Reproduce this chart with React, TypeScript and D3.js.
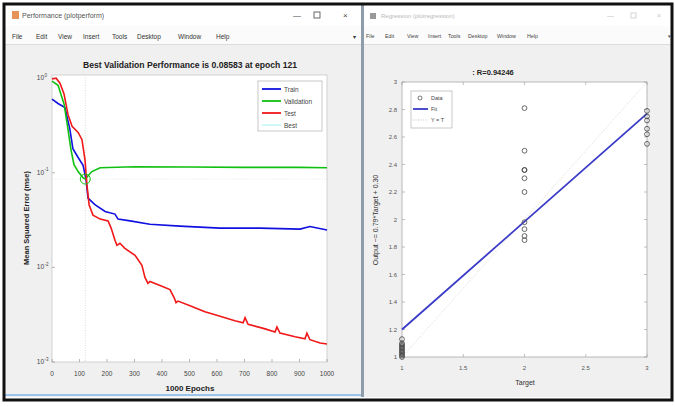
import React from "react";
import * as d3 from "d3";

// ---- performance plot data ----
const trainEpochs = [0, 22, 47, 65, 76, 95, 113, 124, 131, 156, 193, 229, 240, 284, 356, 465, 611, 756, 902, 938, 1000];
const trainMse = [0.6, 0.54, 0.49, 0.29, 0.18, 0.145, 0.12, 0.084, 0.054, 0.046, 0.039, 0.0366, 0.0324, 0.031, 0.0286, 0.0273, 0.026, 0.026, 0.0254, 0.027, 0.0248];

const valEpochs = [0, 22, 44, 58, 69, 80, 95, 113, 121, 145, 175, 300, 500, 700, 900, 1000];
const valMse = [0.93, 0.84, 0.53, 0.29, 0.176, 0.122, 0.103, 0.0885, 0.0858, 0.103, 0.113, 0.116, 0.115, 0.114, 0.114, 0.113];

const testEpochs = [0, 15, 29, 44, 58, 73, 95, 109, 120, 127, 135, 149, 175, 204, 215, 229, 236, 247, 265, 302, 327, 338, 349, 356, 393, 429, 444, 451, 458, 502, 556, 593, 665, 695, 702, 713, 775, 811, 818, 829, 884, 920, 927, 938, 975, 1000];
const testMse = [0.98, 1.0, 0.885, 0.675, 0.414, 0.31, 0.267, 0.224, 0.137, 0.0745, 0.0457, 0.0357, 0.0324, 0.031, 0.026, 0.0194, 0.0171, 0.018, 0.0159, 0.0134, 0.0105, 0.00783, 0.00676, 0.0071, 0.00645, 0.00583, 0.0048, 0.00424, 0.0044, 0.00394, 0.0034, 0.00316, 0.00273, 0.0026, 0.00294, 0.0025, 0.00224, 0.00208, 0.00234, 0.00202, 0.00185, 0.00176, 0.00202, 0.00172, 0.00159, 0.00155];

const bestEpoch = 121;
const bestPerf = 0.08583;
const perfXTicks = [0, 100, 200, 300, 400, 500, 600, 700, 800, 900, 1000];
const perfYExp = [0, -1, -2, -3];
const perfLegend = ["Train", "Validation", "Test", "Best"];
const perfColors = ["#1010e0", "#10c010", "#f01818", "#a0f0f0"];

// ---- regression plot data ----
const regTargets = [1, 1, 1, 1, 1, 1, 1, 1, 1, 1, 1, 1, 2, 2, 2, 2, 2, 2, 2, 2, 2, 2, 3, 3, 3, 3, 3, 3];
const regOutputs = [1.0, 1.01, 1.02, 1.03, 1.04, 1.05, 1.06, 1.07, 1.08, 1.09, 1.1, 1.13, 2.81, 2.5, 2.36, 2.36, 2.3, 2.2, 1.98, 1.93, 1.88, 1.85, 2.79, 2.75, 2.72, 2.66, 2.62, 2.55];
const fitTargets = [1, 3];
const fitOutputs = [1.2, 2.77];
const regXTicks = [1, 1.5, 2, 2.5, 3];
const regYTicks = [1, 1.2, 1.4, 1.6, 1.8, 2, 2.2, 2.4, 2.6, 2.8, 3];

const menuLeft = ["File", "Edit", "View", "Insert", "Tools", "Desktop", "Window", "Help"];
const menuLeftX = [12, 36, 58, 83, 112, 137, 178, 216];
const menuRightX = [366, 385, 407, 428, 448, 468, 497, 527];

const FONT = "'Liberation Sans', Arial, sans-serif";

function zip(xs: number[], ys: number[]): [number, number][] {
  return xs.map((x, i) => [x, ys[i]]);
}

export default function App() {
  // performance axes
  const px = d3.scaleLinear().domain([0, 1000]).range([52, 327]);
  const py = d3.scaleLog().domain([1e-3, 1.08]).range([362, 75]);
  const perfLine = d3.line<[number, number]>().x(d => px(d[0])).y(d => py(d[1]));

  // regression axes
  const rx = d3.scaleLinear().domain([1, 3]).range([402, 647]);
  const ry = d3.scaleLinear().domain([1, 3]).range([357, 82]);
  const regLine = d3.line<[number, number]>().x(d => rx(d[0])).y(d => ry(d[1]));

  return (
    <svg width={675} height={407} style={{ position: "absolute", left: 0, top: 0 }} fontFamily={FONT}>
      <rect x={0} y={0} width={675} height={407} fill="#ffffff" />

      {/* left window */}
      <rect x={5} y={5} width={358} height={392} fill="#f0f0f0" />
      <rect x={5} y={5} width={358} height={21} fill="#ffffff" />
      <rect x={5} y={26} width={358} height={18} fill="#fbfbfb" />
      <line x1={5} x2={363} y1={44.5} y2={44.5} stroke="#dcdcdc" />
      <rect x={12} y={11} width={7} height={8} fill="#e07a30" opacity={0.8} />
      <text x={22} y={18} fontSize={7} fill="#555">Performance (plotperform)</text>
      <text x={293} y={18} fontSize={8} fill="#444">—</text>
      <rect x={314} y={12} width={6} height={6} fill="none" stroke="#444" strokeWidth={0.8} />
      <text x={343} y={18} fontSize={8} fill="#444">×</text>
      {menuLeft.map((m, i) => (
        <text key={m} x={menuLeftX[i]} y={39} fontSize={6.5} fill="#333">{m}</text>
      ))}
      <text x={353} y={39} fontSize={6} fill="#333">▾</text>
      <line x1={5} x2={363} y1={395} y2={395} stroke="#9cc3ea" strokeWidth={2} />

      {/* performance axes */}
      <rect x={52} y={75} width={275} height={287} fill="#fff" stroke="#c8c8c8" strokeWidth={0.8} />
      <text x={190} y={68} fontSize={8.6} fontWeight="bold" textAnchor="middle" fill="#222">
        Best Validation Performance is 0.08583 at epoch 121
      </text>
      {perfXTicks.map(t => (
        <g key={t}>
          <line x1={px(t)} x2={px(t)} y1={362} y2={359} stroke="#888" strokeWidth={0.6} />
          <text x={px(t)} y={376} fontSize={6.5} textAnchor="middle" fill="#444">{t}</text>
        </g>
      ))}
      {perfYExp.map(e => (
        <g key={e}>
          <line x1={52} x2={55} y1={py(10 ** e)} y2={py(10 ** e)} stroke="#888" strokeWidth={0.6} />
          <text x={44} y={py(10 ** e) + 2} fontSize={6.5} textAnchor="end" fill="#444">10</text>
          <text x={44.5} y={py(10 ** e) - 1.5} fontSize={4.5} fill="#444">{e}</text>
        </g>
      ))}
      <text x={190} y={391} fontSize={8} fontWeight="bold" textAnchor="middle" fill="#222">1000 Epochs</text>
      <text transform="translate(29,218) rotate(-90)" fontSize={7.5} fontWeight="bold" textAnchor="middle" fill="#222">
        Mean Squared Error  (mse)
      </text>

      {/* best markers */}
      <line x1={px(bestEpoch)} x2={px(bestEpoch)} y1={75} y2={362} stroke="#c8d8c8" strokeWidth={0.8} strokeDasharray="1,1.5" />
      <line x1={52} x2={327} y1={py(bestPerf)} y2={py(bestPerf)} stroke="#d8ecd8" strokeWidth={0.8} strokeDasharray="1,1.5" />

      <path d={perfLine(zip(trainEpochs, trainMse)) || ""} fill="none" stroke={perfColors[0]} strokeWidth={1.6} />
      <path d={perfLine(zip(valEpochs, valMse)) || ""} fill="none" stroke={perfColors[1]} strokeWidth={1.6} />
      <path d={perfLine(zip(testEpochs, testMse)) || ""} fill="none" stroke={perfColors[2]} strokeWidth={1.6} />
      <circle cx={px(bestEpoch)} cy={py(bestPerf)} r={5} fill="none" stroke={perfColors[1]} strokeWidth={1} />

      {/* performance legend */}
      <rect x={258} y={81} width={64} height={50} fill="#fff" stroke="#bbb" strokeWidth={0.8} />
      {perfLegend.map((l, i) => (
        <g key={l}>
          <line x1={262} x2={281} y1={89 + i * 12} y2={89 + i * 12} stroke={perfColors[i]} strokeWidth={i === 3 ? 1 : 1.8} />
          <text x={284} y={91.5 + i * 12} fontSize={6.5} fill="#444">{l}</text>
        </g>
      ))}

      {/* right window */}
      <rect x={361} y={5} width={311} height={392} fill="#f0f0f0" />
      <rect x={364} y={5} width={308} height={21} fill="#ffffff" />
      <rect x={364} y={26} width={308} height={18} fill="#fbfbfb" />
      <line x1={364} x2={672} y1={44.5} y2={44.5} stroke="#dcdcdc" />
      <rect x={361} y={5} width={3} height={392} fill="#8e9cab" />
      <rect x={370} y={13} width={6} height={6} fill="#999" />
      <text x={381} y={18} fontSize={6} fill="#b8b8b8">Regression (plotregression)</text>
      <text x={607} y={18} fontSize={7} fill="#c8c8c8">—</text>
      <rect x={631} y={13} width={5} height={5} fill="none" stroke="#c8c8c8" strokeWidth={0.8} />
      <text x={657} y={18} fontSize={7} fill="#c8c8c8">×</text>
      {menuLeft.map((m, i) => (
        <text key={m} x={menuRightX[i]} y={38} fontSize={5.3} fill="#444">{m}</text>
      ))}
      <text x={668} y={38} fontSize={5} fill="#444">▾</text>

      {/* regression axes */}
      <rect x={402} y={82} width={245} height={275} fill="#fff" stroke="#a8a8a8" strokeWidth={0.8} />
      <text x={493} y={75} fontSize={7.5} fontWeight="bold" textAnchor="middle" fill="#222">: R=0.94246</text>
      {regXTicks.map(t => (
        <g key={t}>
          <line x1={rx(t)} x2={rx(t)} y1={357} y2={354} stroke="#999" strokeWidth={0.6} />
          <line x1={rx(t)} x2={rx(t)} y1={82} y2={85} stroke="#999" strokeWidth={0.6} />
          <text x={rx(t)} y={370} fontSize={6} textAnchor="middle" fill="#555">{t}</text>
        </g>
      ))}
      {regYTicks.map(t => (
        <g key={t}>
          <line x1={402} x2={405} y1={ry(t)} y2={ry(t)} stroke="#999" strokeWidth={0.6} />
          <line x1={647} x2={644} y1={ry(t)} y2={ry(t)} stroke="#999" strokeWidth={0.6} />
          <text x={397} y={ry(t) + 2} fontSize={6} textAnchor="end" fill="#555">{t}</text>
        </g>
      ))}
      <text x={525} y={385} fontSize={7} textAnchor="middle" fill="#333">Target</text>
      <text transform="translate(378,220) rotate(-90)" fontSize={7} textAnchor="middle" fill="#333">
        Output ~= 0.79*Target + 0.30
      </text>

      <path d={regLine([[1, 1], [3, 3]]) || ""} fill="none" stroke="#c8c8b8" strokeWidth={0.8} strokeDasharray="1,2" />
      <path d={regLine(zip(fitTargets, fitOutputs)) || ""} fill="none" stroke="#3a3ac8" strokeWidth={1.8} />
      {regTargets.map((t, i) => (
        <circle key={i} cx={rx(t)} cy={ry(regOutputs[i])} r={2.4} fill="none" stroke="#444" strokeWidth={0.8} />
      ))}

      {/* regression legend */}
      <rect x={411} y={91} width={41} height={37} fill="#fff" stroke="#bbb" strokeWidth={0.8} />
      <circle cx={420} cy={98} r={2} fill="none" stroke="#444" strokeWidth={0.7} />
      <text x={431} y={100} fontSize={5.5} fill="#444">Data</text>
      <line x1={413} x2={428} y1={109} y2={109} stroke="#3a3ac8" strokeWidth={1.8} />
      <text x={431} y={111} fontSize={5.5} fill="#444">Fit</text>
      <line x1={413} x2={428} y1={120} y2={120} stroke="#aaa" strokeWidth={0.7} strokeDasharray="1,1.5" />
      <text x={431} y={122} fontSize={5.5} fill="#444">Y = T</text>

      {/* outer frame */}
      <rect x={4} y={4} width={668} height={396} fill="none" stroke="#111" strokeWidth={3} />
    </svg>
  );
}
